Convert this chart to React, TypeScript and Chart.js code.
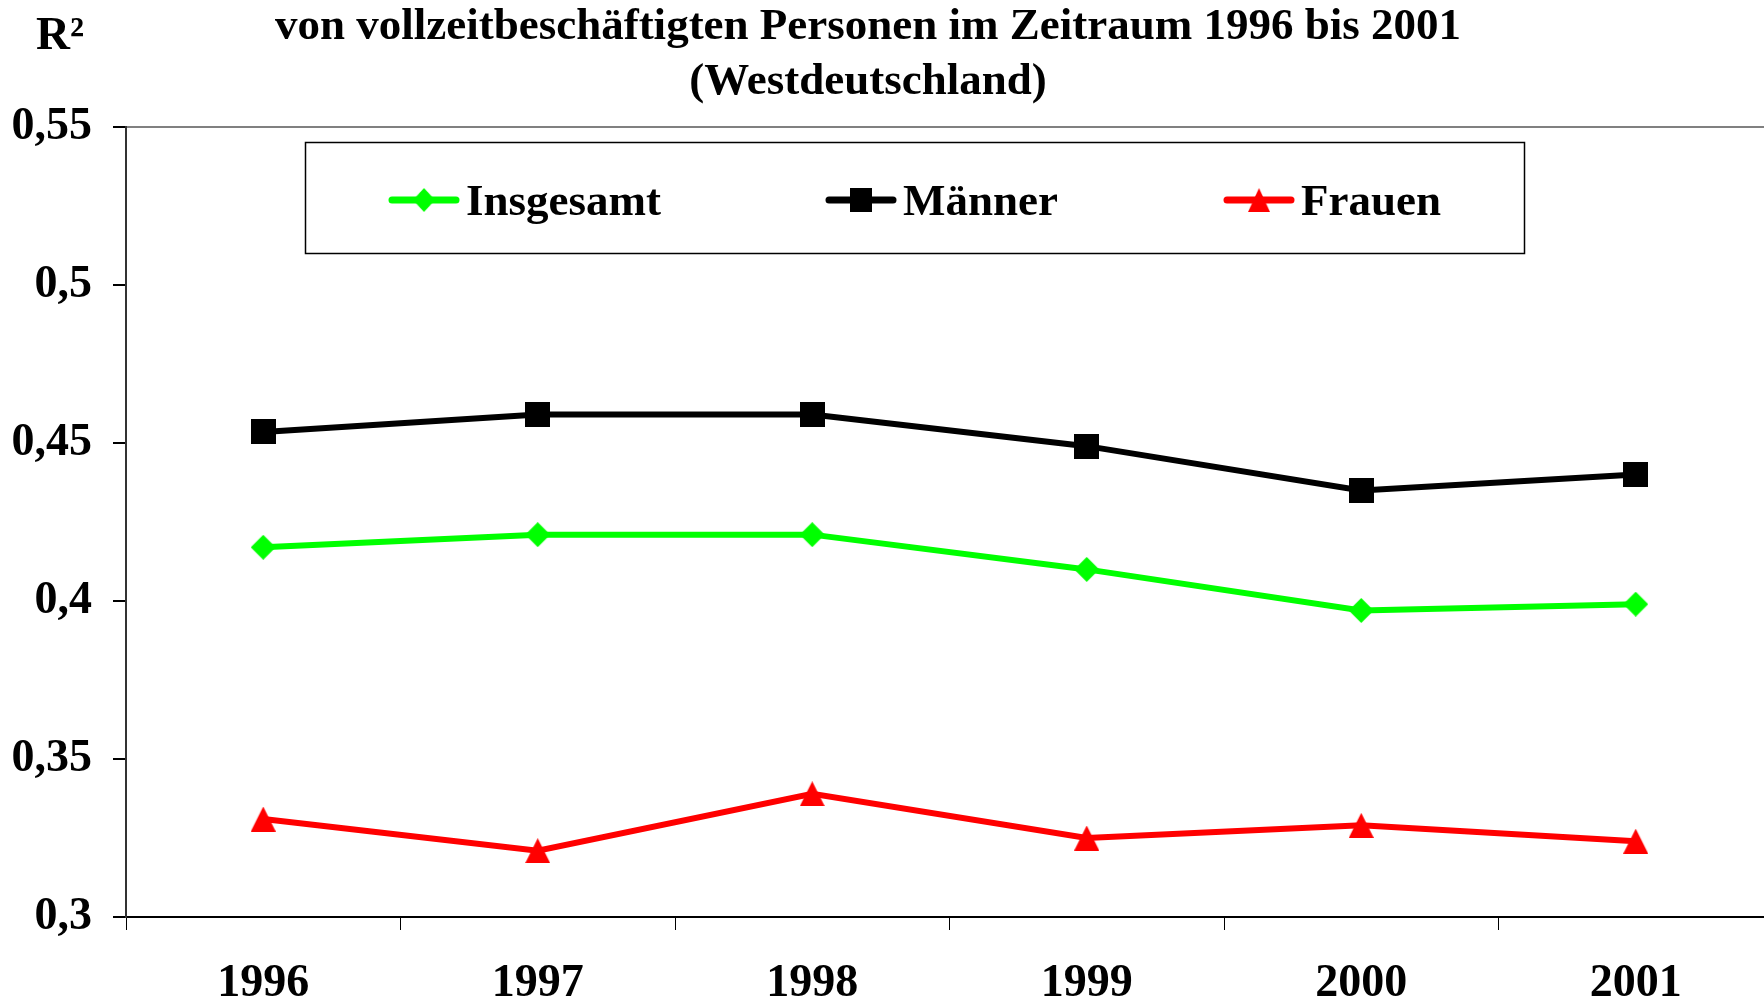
import React, { useEffect, useRef } from 'react';
import { Chart, registerables } from 'chart.js';

Chart.register(...registerables);

const years = ['1996', '1997', '1998', '1999', '2000', '2001'];
const insgesamt = [0.417, 0.421, 0.421, 0.41, 0.397, 0.399];
const maenner = [0.4535, 0.459, 0.459, 0.449, 0.435, 0.44];
const frauen = [0.331, 0.321, 0.339, 0.325, 0.329, 0.324];
const yTickValues = [0.3, 0.35, 0.4, 0.45, 0.5, 0.55];
const yTickLabels = ['0,3', '0,35', '0,4', '0,45', '0,5', '0,55'];
const titleLines = ['von vollzeitbeschäftigten Personen im Zeitraum 1996 bis 2001', '(Westdeutschland)'];
const yAxisTitle = 'R²';
const seriesNames = ['Insgesamt', 'Männer', 'Frauen'];
const seriesColors = ['#00ff00', '#000000', '#ff0000'];
const seriesShapes = ['diamond', 'square', 'triangle'];

const FONT = '"Liberation Serif", "Times New Roman", serif';

function makeMarker(shape: string, color: string, w: number, h: number) {
  const c = document.createElement('canvas');
  c.width = w;
  c.height = h;
  const ctx = c.getContext('2d')!;
  ctx.fillStyle = color;
  ctx.beginPath();
  if (shape === 'diamond') {
    ctx.moveTo(w / 2, 0);
    ctx.lineTo(w, h / 2);
    ctx.lineTo(w / 2, h);
    ctx.lineTo(0, h / 2);
  } else if (shape === 'square') {
    ctx.rect(0, 0, w, h);
  } else {
    ctx.moveTo(w / 2, 0);
    ctx.lineTo(w, h);
    ctx.lineTo(0, h);
  }
  ctx.closePath();
  ctx.fill();
  return c;
}

const decorPlugin = {
  id: 'decor',
  afterDraw(chart: any) {
    const ctx = chart.ctx as CanvasRenderingContext2D;
    ctx.save();
    ctx.fillStyle = '#000';
    // title
    ctx.font = `bold 45px ${FONT}`;
    ctx.textAlign = 'center';
    ctx.textBaseline = 'alphabetic';
    ctx.fillText(titleLines[0], 868, 39);
    ctx.fillText(titleLines[1], 868, 94);
    // y axis title
    ctx.font = `bold 47px ${FONT}`;
    ctx.textAlign = 'left';
    ctx.fillText(yAxisTitle, 36, 49);
    // legend box
    ctx.lineWidth = 1.5;
    ctx.strokeStyle = '#000';
    ctx.strokeRect(305.5, 142.5, 1219, 111);
    const starts = [392, 829, 1227];
    const ly = 200;
    chart.data.datasets.forEach((ds: any, i: number) => {
      const x0 = starts[i];
      ctx.strokeStyle = ds.borderColor;
      ctx.lineWidth = 7;
      ctx.lineCap = 'round';
      ctx.beginPath();
      ctx.moveTo(x0, ly);
      ctx.lineTo(x0 + 64, ly);
      ctx.stroke();
      const img = ds.pointStyle as HTMLCanvasElement;
      ctx.drawImage(img, x0 + 32 - 11, ly - 12, 22, 24);
      ctx.fillStyle = '#000';
      ctx.font = `bold 45px ${FONT}`;
      ctx.textAlign = 'left';
      ctx.fillText(ds.label, x0 + 74, 215);
    });
    ctx.restore();
  },
};

export default function App() {
  const ref = useRef<HTMLCanvasElement>(null);
  useEffect(() => {
    const canvas = ref.current!;
    const values = [insgesamt, maenner, frauen];
    const chart = new Chart(canvas, {
      type: 'line',
      data: {
        labels: years,
        datasets: seriesNames.map((name, i) => ({
          label: name,
          data: values[i],
          borderColor: seriesColors[i],
          backgroundColor: seriesColors[i],
          borderWidth: 6,
          pointStyle: makeMarker(seriesShapes[i], seriesColors[i], 25, 25) as any,
          pointRadius: 12,
          pointHoverRadius: 12,
          tension: 0,
        })),
      },
      options: {
        animation: false,
        responsive: false,
        devicePixelRatio: 1,
        events: [],
        layout: { autoPadding: false, padding: { top: 127, right: 3, left: 0, bottom: 0 } },
        plugins: {
          legend: { display: false },
          title: { display: false },
          tooltip: { enabled: false },
        },
        scales: {
          x: {
            offset: true,
            grid: {
              offset: true,
              drawOnChartArea: false,
              tickLength: 13,
              color: '#000',
              tickColor: '#000',
              lineWidth: 1,
            },
            border: { display: true, color: '#000', width: 2 },
            ticks: {
              color: '#000',
              font: { family: FONT, size: 46, weight: 'bold' },
              padding: 27,
              maxRotation: 0,
              autoSkip: false,
            },
            afterFit: (scale: any) => {
              scale.height = 85;
              scale.paddingLeft = 0;
              scale.paddingRight = 0;
            },
          },
          y: {
            min: yTickValues[0],
            max: yTickValues[yTickValues.length - 1],
            afterBuildTicks: (scale: any) => {
              scale.ticks = yTickValues.map((v) => ({ value: v }));
            },
            grid: {
              drawOnChartArea: true,
              tickLength: 13,
              lineWidth: 2,
              color: (c: any) => (c.index === yTickValues.length - 1 ? '#808080' : 'rgba(0,0,0,0)'),
              tickColor: '#000',
            },
            border: { display: true, color: '#333', width: 2 },
            ticks: {
              color: '#000',
              font: { family: FONT, size: 46, weight: 'bold' },
              padding: 21,
              callback: (_v: any, i: number) => yTickLabels[i],
            },
            afterFit: (scale: any) => {
              scale.width = 126;
            },
          },
        },
      },
      plugins: [decorPlugin],
    });
    return () => chart.destroy();
  }, []);
  return (
    <div
      style={{
        position: 'fixed',
        left: 0,
        top: 0,
        width: 1764,
        height: 1002,
        overflow: 'hidden',
        background: '#fff',
      }}
    >
      <canvas ref={ref} width={1776} height={1002} style={{ width: 1776, height: 1002, display: 'block' }} />
    </div>
  );
}
